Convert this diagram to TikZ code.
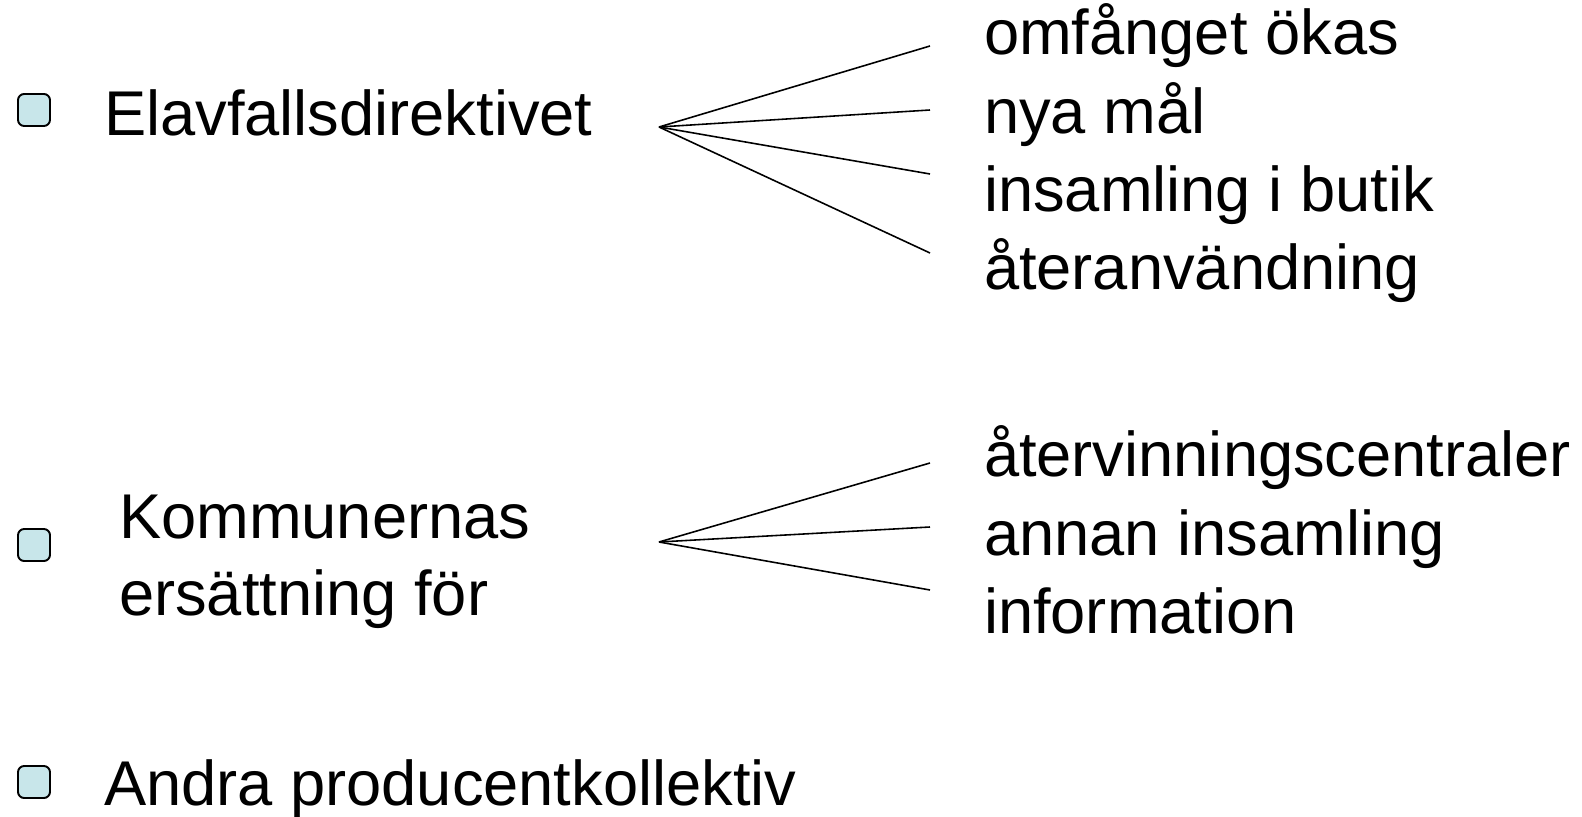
\documentclass[tikz,border=0pt]{standalone}
\usepackage{fontspec}
\setmainfont{Liberation Sans}
\definecolor{bulletfill}{RGB}{200,230,234}
\tikzset{
    bullet/.style = {
        draw=black, fill=bulletfill, rectangle, rounded corners=3.5pt,
        line width=1.1pt,
        inner sep=0,
        minimum width=0.64cm,
        minimum height=0.64cm
    },
    item/.style = {
        anchor=base west,
        inner sep=0, outer sep=0,
        font=\fontsize{36}{43}\selectfont
    },
    fan/.style = {line width=0.9pt}
}

\begin{document}
\begin{tikzpicture}[x=0.02cm,y=-0.02cm]
\useasboundingbox (0,0) rectangle (1582,817);

% 1. bullets and main items
\node[bullet] (b1) at (34,110) {};
\node[bullet] (b2) at (34,545) {};
\node[bullet] (b3) at (34,782) {};
\node[item] (elavfall) at (104,136) {Elavfallsdirektivet};
\node[item] (kommun1)  at (119,538) {Kommunernas};
\node[item] (kommun2)  at (119,615) {ersättning för};
\node[item] (andra)    at (104,805) {Andra producentkollektiv};

% 2. sub items
\node[item] (omfang)  at (984,55)  {omfånget ökas};
\node[item] (nyamal)  at (984,134) {nya mål};
\node[item] (butik)   at (984,212) {insamling i butik};
\node[item] (ateranv) at (984,290) {återanvändning};
\node[item] (atervin) at (984,476) {återvinningscentraler};
\node[item] (annan)   at (984,555) {annan insamling};
\node[item] (info)    at (984,633) {information};

% 3. fan points -- ends stop short of the texts
\coordinate (f1) at (659,127);
\coordinate (f2) at (659,542);
\foreach \y [count=\i] in {46,110,174,253} \coordinate (a\i) at (930,\y);
\foreach \y [count=\i] in {463,527,590} \coordinate (c\i) at (930,\y);

% 4. fan lines
\foreach \i in {1,...,4} \draw[fan] (f1) -- (a\i);
\foreach \i in {1,...,3} \draw[fan] (f2) -- (c\i);

\end{tikzpicture}
\end{document}
